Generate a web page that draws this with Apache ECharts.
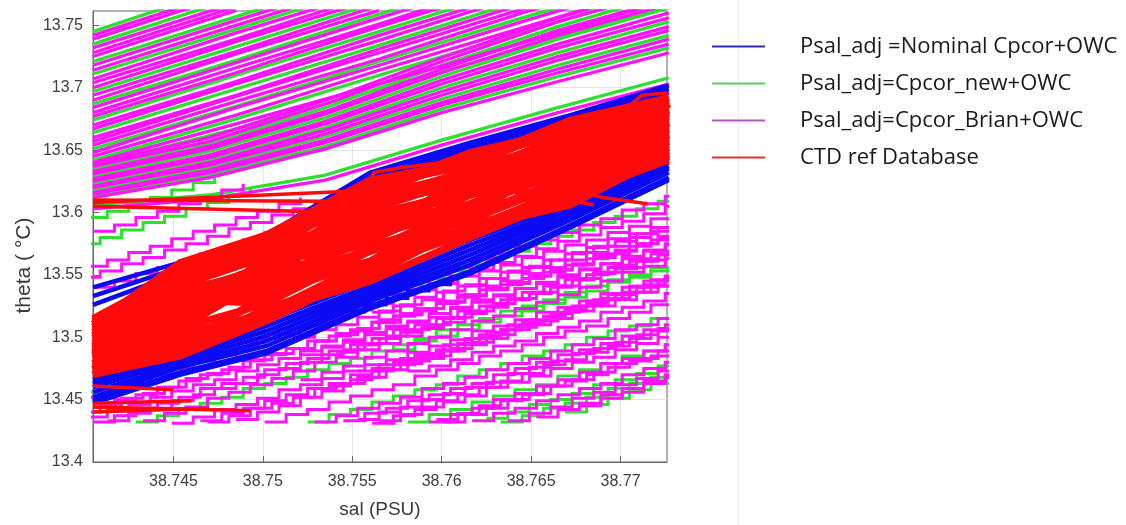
<!DOCTYPE html>
<html><head><meta charset="utf-8">
<script src="https://cdn.jsdelivr.net/npm/echarts@6/dist/echarts.min.js"></script>
<style>html,body{margin:0;padding:0;background:#fff}#c{width:1126px;height:525px}</style>
</head><body><div id="c"></div><script>
// ---------- axes / ticks ----------
const xTicks = [38.745, 38.75, 38.755, 38.76, 38.765, 38.77];
const yTicks = [13.4, 13.45, 13.5, 13.55, 13.6, 13.65, 13.7, 13.75];
const xRange = [38.7405, 38.7726];
const yRange = [13.4, 13.7615];
const legendNames = ['Psal_adj =Nominal Cpcor+OWC', 'Psal_adj=Cpcor_new+OWC', 'Psal_adj=Cpcor_Brian+OWC', 'CTD ref Database'];

// ---------- upper band (Cpcor_new / Cpcor_Brian), smooth profiles ----------
const salUp5 = [38.7405, 38.7485, 38.7565, 38.7645, 38.7727];
const upper5Color = ['g','m','m','g','m','m','m','g','m','m','g','m','m','m','g','m','m','g','m','m','m','g','m','m','g','m','m','m','g','m','m','g','m','g'];
const upper5Theta = [
 [13.642,13.675,13.710,13.744,13.780],[13.645,13.678,13.714,13.748,13.783],[13.648,13.684,13.718,13.753,13.788],
 [13.651,13.685,13.721,13.756,13.790],[13.654,13.689,13.723,13.760,13.795],[13.657,13.693,13.728,13.763,13.800],
 [13.660,13.694,13.731,13.767,13.803],[13.664,13.699,13.734,13.770],[13.667,13.703,13.738,13.774],
 [13.670,13.705,13.742,13.777],[13.674,13.710,13.745,13.781],[13.677,13.712,13.749,13.784],
 [13.680,13.716,13.751,13.788],[13.684,13.720,13.756,13.791],[13.687,13.722,13.759,13.795],
 [13.690,13.727,13.762],[13.694,13.729,13.766],[13.697,13.733,13.769],[13.700,13.737,13.772],
 [13.704,13.739,13.776],[13.707,13.744,13.779],[13.711,13.747,13.783],[13.714,13.750,13.786],
 [13.718,13.754,13.789],[13.721,13.757,13.793],[13.725,13.762],[13.728,13.765],[13.732,13.768],
 [13.735,13.772],[13.739,13.776],[13.742,13.779],[13.745,13.783],
 [13.640,13.671,13.703,13.736,13.770],[13.638,13.667,13.699,13.731,13.766]
];
const salUp6 = [38.7405, 38.7470, 38.7535, 38.7600, 38.7665, 38.7727];
const upper6Color = ['g','m','m','g','m','m','g','m','m','g','m','m','g','m','m','g','m','m'];
const upper6Theta = [
 [13.606,13.614,13.630,13.658,13.684,13.708],[13.603,13.611,13.626,13.654,13.680,13.703],
 [13.612,13.628,13.651,13.680,13.705,13.728],[13.613,13.630,13.653,13.683,13.709,13.732],
 [13.615,13.632,13.656,13.686,13.712,13.735],[13.616,13.634,13.658,13.688,13.715,13.739],
 [13.618,13.636,13.661,13.691,13.718,13.742],[13.620,13.638,13.663,13.694,13.722,13.746],
 [13.621,13.640,13.666,13.697,13.725,13.749],[13.623,13.642,13.668,13.700,13.728,13.753],
 [13.625,13.644,13.671,13.703,13.732,13.756],[13.627,13.646,13.673,13.706,13.735,13.760],
 [13.629,13.649,13.676,13.709,13.739,13.764],[13.631,13.651,13.679,13.712,13.742,13.767],
 [13.633,13.653,13.681,13.715,13.746,13.771],[13.635,13.655,13.684,13.718,13.749,13.775],
 [13.637,13.657,13.687,13.721,13.753,13.778],[13.639,13.660,13.690,13.724,13.756,13.782]
];

// ---------- staircase profiles (salinity grids) ----------
const salGridA = [38.7405,38.7417,38.7429,38.7441,38.7453,38.7465,38.7477,38.7489,38.7501,38.7513,38.7525,38.7537,38.7549,38.7561,38.7573,38.7585,38.7597,38.7609,38.7621,38.7633,38.7645,38.7657,38.7669,38.7681,38.7693,38.7705,38.7717,38.7729,38.7741];
const salGridB = [38.7401,38.7413,38.7425,38.7437,38.7449,38.7461,38.7473,38.7485,38.7497,38.7509,38.7521,38.7533,38.7545,38.7557,38.7569,38.7581,38.7593,38.7605,38.7617,38.7629,38.7641,38.7653,38.7665,38.7677,38.7689,38.7701,38.7713,38.7725,38.7737];
const salGridC = [38.7397,38.7409,38.7421,38.7433,38.7445,38.7457,38.7469,38.7481,38.7493,38.7505,38.7517,38.7529,38.7541,38.7553,38.7565,38.7577,38.7589,38.7601,38.7613,38.7625,38.7637,38.7649,38.7661,38.7673,38.7685,38.7697,38.7709,38.7721,38.7733];
const stairGrid  = ['A','B','C','A','B','C','A', 'B','A','C','B','A','C','B','A','C','B','A','C','B','A','C','B','A','C','B','A', 'A','C','B','C','A','B', 'B',
                    'B','C','A','C','A','B','C','A','B','C','A','B','C','B','C','A','B'];
const stairStart = [0,0,0,0,0,0,0, 1,2,3,4,5,6,7,8,11,12,13,14,15,16,17,18,19,20,21,22, 0,0,0,0,0,0, 12,
                    10,11,12,10,13,11,12,14,10,13,11,15,13,16,19,10,23];
const stairColor = ['m','m','m','m','m','g','m', 'm','g','m','m','m','m','m','m','m','m','m','m','g','m','m','m','g','m','m','g', 'm','m','m','g','m','g', 'b',
                    'm','m','m','m','m','m','m','g','m','m','m','m','m','m','g','g','m'];
const stairTheta = [
 [13.432,13.437,13.443,13.447,13.452,13.459,13.463,13.468,13.474,13.479,13.483,13.489,13.494,13.499,13.506,13.510,13.515,13.521,13.525,13.530,13.536,13.541,13.546,13.550,13.556,13.561,13.567,13.572,13.577],
 [13.436,13.442,13.446,13.452,13.457,13.462,13.466,13.473,13.478,13.483,13.489,13.493,13.498,13.504,13.509,13.513,13.519,13.524,13.530,13.534,13.539,13.544,13.550,13.555,13.559,13.565,13.570,13.575,13.581],
 [13.440,13.445,13.451,13.455,13.460,13.467,13.471,13.476,13.482,13.487,13.491,13.497,13.502,13.507,13.514,13.518,13.523,13.529,13.533,13.538,13.544,13.549,13.554,13.558,13.564,13.569,13.575,13.580,13.585],
 [13.444,13.450,13.454,13.460,13.465,13.470,13.474,13.481,13.486,13.491,13.497,13.501,13.506,13.512,13.517,13.521,13.527,13.532,13.538,13.542,13.547,13.552,13.558,13.563,13.567,13.573,13.578,13.583,13.589],
 [13.452,13.458,13.463,13.470,13.475,13.481,13.486,13.492,13.499,13.503,13.509,13.514,13.520,13.526,13.531,13.538,13.543,13.549,13.554,13.560,13.565,13.571,13.577,13.582,13.588,13.593,13.599,13.605,13.610],
 [13.456,13.462,13.467,13.474,13.479,13.485,13.490,13.496,13.503,13.507,13.513,13.518,13.524,13.530,13.535,13.542,13.547,13.553,13.558,13.564,13.569,13.575,13.581,13.586,13.592,13.597,13.603,13.609,13.614],
 [13.460,13.465,13.471,13.475,13.480,13.487,13.491,13.496,13.502,13.507,13.511,13.517,13.522,13.527,13.534,13.538,13.543,13.549,13.553,13.558,13.564,13.569,13.574,13.578,13.584,13.589,13.595,13.600,13.605],
 [13.433,13.439,13.443,13.449,13.454,13.459,13.463,13.470,13.475,13.480,13.486,13.490,13.495,13.501,13.506,13.510,13.516,13.521,13.527,13.531,13.536,13.541,13.547,13.552,13.556,13.562,13.567,13.572],
 [13.432,13.437,13.443,13.447,13.452,13.459,13.463,13.468,13.474,13.479,13.483,13.489,13.494,13.499,13.506,13.510,13.515,13.521,13.525,13.530,13.536,13.541,13.546,13.550,13.556,13.561,13.567],
 [13.433,13.439,13.444,13.451,13.456,13.462,13.467,13.473,13.480,13.484,13.490,13.495,13.501,13.507,13.512,13.519,13.524,13.530,13.535,13.541,13.546,13.552,13.558,13.563,13.569,13.574],
 [13.431,13.436,13.442,13.446,13.451,13.458,13.462,13.467,13.473,13.478,13.482,13.488,13.493,13.498,13.505,13.509,13.514,13.520,13.524,13.529,13.535,13.540,13.545,13.549,13.555],
 [13.433,13.439,13.443,13.449,13.454,13.459,13.463,13.470,13.475,13.480,13.486,13.490,13.495,13.501,13.506,13.510,13.516,13.521,13.527,13.531,13.536,13.541,13.547,13.552],
 [13.432,13.437,13.443,13.447,13.452,13.459,13.463,13.468,13.474,13.479,13.483,13.489,13.494,13.499,13.506,13.510,13.515,13.521,13.525,13.530,13.536,13.541,13.546],
 [13.434,13.440,13.445,13.452,13.457,13.463,13.468,13.474,13.481,13.485,13.491,13.496,13.502,13.508,13.513,13.520,13.525,13.531,13.536,13.542,13.547,13.553],
 [13.432,13.438,13.442,13.448,13.453,13.458,13.462,13.469,13.474,13.479,13.485,13.489,13.494,13.500,13.505,13.509,13.515,13.520,13.526,13.530,13.535],
 [13.432,13.437,13.443,13.447,13.452,13.459,13.463,13.468,13.474,13.479,13.483,13.489,13.494,13.499,13.506,13.510,13.515,13.521],
 [13.433,13.439,13.443,13.449,13.454,13.459,13.463,13.470,13.475,13.480,13.486,13.490,13.495,13.501,13.506,13.510,13.516],
 [13.431,13.437,13.442,13.449,13.454,13.460,13.465,13.471,13.478,13.482,13.488,13.493,13.499,13.505,13.510,13.517],
 [13.433,13.438,13.444,13.448,13.453,13.460,13.464,13.469,13.475,13.480,13.484,13.490,13.495,13.500,13.507],
 [13.432,13.438,13.442,13.448,13.453,13.458,13.462,13.469,13.474,13.479,13.485,13.489,13.494,13.500],
 [13.434,13.439,13.445,13.449,13.454,13.461,13.465,13.470,13.476,13.481,13.485,13.491,13.496],
 [13.432,13.438,13.443,13.450,13.455,13.461,13.466,13.472,13.479,13.483,13.489,13.494],
 [13.433,13.439,13.443,13.449,13.454,13.459,13.463,13.470,13.475,13.480,13.486],
 [13.432,13.437,13.443,13.447,13.452,13.459,13.463,13.468,13.474,13.479],
 [13.433,13.439,13.444,13.451,13.456,13.462,13.467,13.473,13.480],
 [13.436,13.442,13.447,13.454,13.459,13.465,13.470,13.476],
 [13.440,13.446,13.451,13.458,13.463,13.469,13.474],
 [13.540,13.545,13.551,13.556,13.561,13.567,13.572,13.578,13.584,13.589,13.595,13.600,13.606],
 [13.548,13.553,13.559,13.564,13.570,13.575,13.581,13.587,13.592,13.598,13.603,13.609],
 [13.557,13.562,13.568,13.573,13.579,13.585,13.590,13.596,13.601,13.607,13.612],
 [13.575,13.580,13.586,13.592,13.597,13.603,13.608,13.614,13.619],
 [13.585,13.590,13.596,13.601,13.607,13.612,13.618,13.623],
 [13.596,13.601,13.607,13.612,13.618,13.624,13.629],
 [13.521,13.526,13.531,13.537,13.542,13.548],
 [13.486,13.492,13.496,13.502,13.507,13.512,13.516,13.523,13.528,13.533,13.539,13.543,13.548,13.554,13.559,13.563,13.569,13.574,13.580],
 [13.497,13.503,13.507,13.512,13.519,13.523,13.528,13.534,13.539,13.543,13.549,13.554,13.559,13.566,13.570,13.575,13.581,13.585],
 [13.505,13.512,13.517,13.523,13.528,13.534,13.541,13.545,13.551,13.556,13.562,13.568,13.573,13.580,13.585,13.591,13.596],
 [13.500,13.506,13.510,13.516,13.521,13.526,13.530,13.537,13.542,13.547,13.553,13.557,13.562,13.568,13.573,13.577,13.583,13.588,13.594],
 [13.520,13.525,13.532,13.536,13.541,13.547,13.552,13.556,13.562,13.567,13.572,13.579,13.583,13.588,13.594,13.598],
 [13.522,13.527,13.534,13.539,13.545,13.550,13.556,13.563,13.567,13.573,13.578,13.584,13.590,13.595,13.602,13.607,13.613,13.618],
 [13.488,13.494,13.499,13.504,13.508,13.515,13.520,13.525,13.531,13.535,13.540,13.546,13.551,13.555,13.561,13.566,13.572],
 [13.490,13.497,13.501,13.506,13.512,13.517,13.521,13.527,13.532,13.537,13.544,13.548,13.553,13.559,13.563],
 [13.466,13.472,13.477,13.484,13.489,13.495,13.500,13.506,13.513,13.517,13.523,13.528,13.534,13.540,13.545,13.552,13.557,13.563,13.568],
 [13.473,13.478,13.483,13.487,13.494,13.499,13.504,13.510,13.514,13.519,13.525,13.530,13.534,13.540,13.545,13.551],
 [13.461,13.466,13.473,13.478,13.484,13.489,13.495,13.502,13.506,13.512,13.517,13.523,13.529,13.534,13.541,13.546,13.552,13.557],
 [13.473,13.477,13.482,13.488,13.493,13.497,13.503,13.508,13.513,13.520,13.524,13.529,13.535,13.539],
 [13.434,13.440,13.444,13.450,13.455,13.460,13.464,13.471,13.476,13.481,13.487,13.491,13.496,13.502,13.507,13.511],
 [13.432,13.438,13.443,13.450,13.455,13.461,13.466,13.472,13.479,13.483,13.489,13.494,13.500],
 [13.435,13.440,13.446,13.450,13.455,13.462,13.466,13.471,13.477,13.482],
 [13.432,13.438,13.442,13.448,13.453,13.458,13.462,13.469,13.474,13.479,13.485,13.489,13.494,13.500,13.505,13.509,13.515,13.520,13.526],
 [13.445,13.451,13.456,13.463,13.468,13.474]
];

// ---------- main band: nominal Cpcor (blue) and CTD reference (red) ----------
const salBand = [38.7405, 38.7454, 38.7502, 38.7560, 38.7616, 38.7672, 38.7727];
const blueTheta = [
 [13.447,13.470,13.487,13.523,13.551,13.588,13.626],
 [13.449,13.472,13.489,13.525,13.553,13.590,13.628],[13.452,13.476,13.493,13.529,13.558,13.594,13.632],
 [13.456,13.478,13.497,13.532,13.562,13.597,13.635],[13.460,13.481,13.501,13.535,13.566,13.600,13.637],
 [13.463,13.484,13.505,13.538,13.570,13.602,13.640],[13.466,13.486,13.509,13.541,13.574,13.604,13.644],
 [13.470,13.489,13.513,13.545,13.578,13.607,13.646],
 [13.540,13.560,13.582,13.632,13.656,13.678,13.702],[13.533,13.556,13.578,13.628,13.653,13.676,13.699],
 [13.526,13.552,13.575,13.625,13.650,13.674,13.696]
];
const redTheta = [
 [13.470,13.485,13.520,13.545,13.580,13.613,13.642],[13.4745,13.485,13.513,13.553,13.587,13.606,13.647],
 [13.4745,13.500,13.520,13.561,13.587,13.620,13.647],[13.479,13.4925,13.534,13.561,13.600,13.620,13.652],
 [13.4835,13.5075,13.527,13.569,13.594,13.626,13.657],[13.4835,13.515,13.541,13.569,13.607,13.633,13.657],
 [13.488,13.5075,13.5475,13.577,13.614,13.633,13.662],[13.4925,13.5225,13.541,13.5855,13.607,13.640,13.667],
 [13.4925,13.530,13.554,13.5855,13.621,13.647,13.667],[13.497,13.5225,13.561,13.594,13.614,13.647,13.672],
 [13.5015,13.5375,13.554,13.602,13.628,13.654,13.677],[13.5015,13.545,13.568,13.602,13.634,13.654,13.682],
 [13.506,13.5375,13.575,13.610,13.634,13.660,13.682],[13.5105,13.5525,13.568,13.618,13.641,13.667,13.687],
 [13.5105,13.560,13.582,13.618,13.648,13.667,13.692],[13.515,13.5525,13.582,13.626,13.641,13.674,13.692],
 [13.479,13.515,13.554,13.610,13.621,13.633,13.652],[13.506,13.530,13.541,13.561,13.607,13.647,13.682],
 [13.470,13.5075,13.554,13.618,13.641,13.647,13.657],[13.515,13.5375,13.5475,13.569,13.587,13.620,13.662],
 [13.488,13.530,13.527,13.594,13.594,13.654,13.667],[13.497,13.500,13.568,13.577,13.628,13.626,13.672],
 [13.4745,13.5225,13.534,13.602,13.600,13.660,13.652],[13.5105,13.5225,13.561,13.553,13.621,13.613,13.687],
 [13.4723,13.4888,13.5235,13.549,13.5905,13.6095,13.6445],[13.4813,13.4963,13.5305,13.573,13.597,13.6295,13.6545],
 [13.4858,13.5188,13.5375,13.581,13.6035,13.6365,13.6595],[13.4903,13.5263,13.551,13.598,13.6175,13.6435,13.6645],
 [13.4948,13.5338,13.5575,13.590,13.6245,13.6505,13.6695],[13.4993,13.5413,13.5645,13.606,13.6245,13.657,13.6745],
 [13.5038,13.5488,13.5715,13.614,13.631,13.6635,13.6795],[13.5083,13.5563,13.5785,13.622,13.6375,13.6705,13.6845],
 [13.5128,13.5488,13.5785,13.614,13.6445,13.6635,13.6895],[13.4768,13.5038,13.5165,13.557,13.5835,13.6165,13.6495],
 [13.4948,13.5113,13.5575,13.581,13.631,13.6435,13.6595],[13.4858,13.5338,13.544,13.614,13.6175,13.6505,13.6795]
];
// stray reference segments (salinity, theta pairs)
const redExtraSal = [
 [38.7405,38.7549,38.7562],[38.7405,38.7520,38.7545],[38.7405,38.7535],
 [38.7405,38.7493],[38.7405,38.7470],[38.7405,38.7460],[38.7405,38.7450],
 [38.7640,38.7690,38.7715],[38.7630,38.7685],[38.7555,38.7562,38.7578,38.7600],[38.7700,38.7712,38.7727]
];
const redExtraTheta = [
 [13.608,13.617,13.626],[13.605,13.601,13.598],[13.610,13.609],
 [13.444,13.441],[13.440,13.443],[13.447,13.449],[13.461,13.458],
 [13.628,13.612,13.607],[13.622,13.606],[13.600,13.632,13.636,13.640],[13.680,13.694,13.696]
];

// ---------- build series ----------
const colorOf = {b:'#0a0af5', g:'#2ee02e', m:'#ff12ff', r:'#ff0a0a'};
const nameOf = {b:legendNames[0], g:legendNames[1], m:legendNames[2], r:legendNames[3]};
const layers = {g:[], m:[], b:[], r:[]};
function add(col, data, width, step){ layers[col].push({data:data, width:width, step:step}); }
const pair = (xs, ts) => ts.map((t,i) => [xs[i], t]);

upper5Theta.forEach((t,k) => add(upper5Color[k], pair(salUp5, t), 3.3, false));
upper6Theta.forEach((t,k) => add(upper6Color[k], pair(salUp6, t), 3.3, false));
const grids = {A:salGridA, B:salGridB, C:salGridC};
stairTheta.forEach((t,k) => {
  const g = grids[stairGrid[k]], s = stairStart[k];
  add(stairColor[k], t.map((v,i) => [g[s+i], v]), 3, 'end');
});
blueTheta.forEach(t => add('b', pair(salBand, t), 4.5, false));
redTheta.forEach(t => add('r', pair(salBand, t), 7, false));
redExtraTheta.forEach((t,k) => add('r', pair(redExtraSal[k], t), 3.5, false));

const series = [];
['g','m','b','r'].forEach((col, li) => layers[col].forEach(l => series.push({
  type:'line', name:nameOf[col], data:l.data, step:l.step, symbol:'none', showSymbol:false,
  lineStyle:{color:colorOf[col], width:l.width, cap:'butt', join:'miter'},
  itemStyle:{color:colorOf[col]}, silent:true, animation:false, z:2+li, clip:true,
  emphasis:{disabled:true}
})));

const axisColor = '#666';
const labelFont = {fontFamily:'Liberation Sans', fontSize:16, color:'#404040'};
const chart = echarts.init(document.getElementById('c'), null, {renderer:'canvas'});
chart.setOption({
  animation:false,
  backgroundColor:'#fff',
  grid:{left:93, right:459, top:11, bottom:63, show:true, borderColor:axisColor, borderWidth:1, backgroundColor:'transparent'},
  xAxis:{type:'value', min:xRange[0], max:xRange[1],
    name:'sal (PSU)', nameLocation:'middle', nameGap:38, nameMoveOverlap:false,
    nameTextStyle:{fontFamily:'Liberation Sans', fontSize:19, color:'#3a3a3a'},
    axisLine:{onZero:false, lineStyle:{color:axisColor}},
    axisTick:{inside:true, length:6, customValues:xTicks, lineStyle:{color:axisColor}},
    axisLabel:Object.assign({margin:12, customValues:xTicks, formatter:v => String(+(+v).toFixed(3))}, labelFont),
    splitLine:{show:true, lineStyle:{color:'#e3e3e3', width:1}}},
  yAxis:{type:'value', min:yRange[0], max:yRange[1],
    name:'theta ( °C)', nameLocation:'middle', nameGap:58, nameMoveOverlap:false,
    nameTextStyle:{fontFamily:'Liberation Sans', fontSize:21, color:'#3a3a3a', padding:[0,58,0,0]},
    axisLine:{show:true, lineStyle:{color:axisColor}},
    axisTick:{show:true, inside:true, length:6, customValues:yTicks, lineStyle:{color:axisColor}},
    axisLabel:Object.assign({margin:10, customValues:yTicks, formatter:v => String(+(+v).toFixed(2))}, labelFont),
    splitLine:{show:true, lineStyle:{color:'#e3e3e3', width:1}}},
  legend:{orient:'vertical', left:712, top:34, padding:0, itemWidth:53, itemHeight:2, itemGap:12, icon:'rect', selectedMode:false,
    data:[
      {name:legendNames[0], itemStyle:{color:'#2b2bc0'}},
      {name:legendNames[1], itemStyle:{color:'#5ccf5c'}},
      {name:legendNames[2], itemStyle:{color:'#b353c4'}},
      {name:legendNames[3], itemStyle:{color:'#e03232'}}
    ],
    textStyle:{fontFamily:'Open Sans', fontSize:22, color:'#1a1a1a', lineHeight:25, padding:[0,0,0,30]}},
  graphic:[{type:'line', shape:{x1:738.5, y1:0, x2:738.5, y2:525}, style:{stroke:'#f0f0f0', lineWidth:1}, silent:true}],
  series:series
});
</script></body></html>
